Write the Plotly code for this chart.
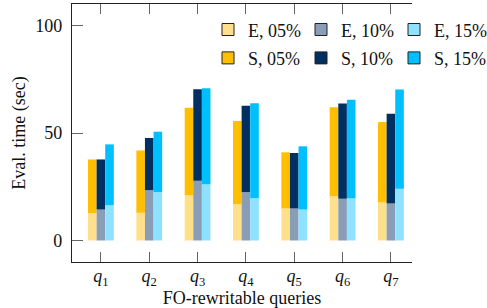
import plotly.graph_objects as go

queries = ["<i>q</i><sub>1</sub>", "<i>q</i><sub>2</sub>", "<i>q</i><sub>3</sub>", "<i>q</i><sub>4</sub>",
           "<i>q</i><sub>5</sub>", "<i>q</i><sub>6</sub>", "<i>q</i><sub>7</sub>"]
pcts = ["05%", "10%", "15%"]

# E (bottom part) and S (stacked on top) evaluation times, seconds
E_05 = [12.7, 12.9, 21.1, 16.9, 14.9, 20.6, 17.7]
E_10 = [14.4, 23.4, 27.8, 22.4, 14.9, 19.4, 17.2]
E_15 = [16.4, 22.5, 26.2, 19.6, 14.4, 19.7, 24.1]
S_05 = [25.0, 29.0, 40.7, 38.7, 26.1, 41.4, 37.4]
S_10 = [23.3, 24.3, 42.5, 40.3, 25.8, 44.3, 41.8]
S_15 = [28.3, 28.1, 44.6, 44.2, 29.4, 45.8, 46.1]

y_ticks = [0, 50, 100]

E_colors = ["#FFE08A", "#8A9DB6", "#8FE2FF"]
S_colors = ["#FFBF00", "#002F62", "#00BFFF"]
offsets = [-0.267, -0.089, 0.089]
bw = 0.178
FONT = "Liberation Serif"

fig = go.Figure()
E_all = [E_05, E_10, E_15]
S_all = [S_05, S_10, S_15]
for i in range(3):
    fig.add_trace(go.Bar(x=queries, y=E_all[i], offset=offsets[i], width=bw,
                         marker=dict(color=E_colors[i], line=dict(width=0)),
                         showlegend=False))
    fig.add_trace(go.Bar(x=queries, y=S_all[i], base=E_all[i], offset=offsets[i], width=bw,
                         marker=dict(color=S_colors[i], line=dict(width=0)),
                         showlegend=False))
# legend entries
for i in range(3):
    fig.add_trace(go.Bar(x=[None], y=[None], name="E, " + pcts[i], legend="legend",
                         marker=dict(color=E_colors[i], line=dict(color="#222", width=1))))
for i in range(3):
    fig.add_trace(go.Bar(x=[None], y=[None], name="S, " + pcts[i], legend="legend2",
                         marker=dict(color=S_colors[i], line=dict(color="#222", width=1))))

leg_common = dict(orientation="h", xanchor="left", yanchor="middle", bgcolor="rgba(0,0,0,0)",
                  borderwidth=0, font=dict(family=FONT, size=18, color="#111"),
                  entrywidth=48, tracegroupgap=0)
fig.update_layout(
    width=487, height=308,
    margin=dict(l=72, r=0, t=4, b=46),
    barmode="overlay",
    plot_bgcolor="white", paper_bgcolor="white",
    font=dict(family=FONT, size=18, color="#111"),
    legend=dict(x=0.4, y=0.9, **leg_common),
    legend2=dict(x=0.4, y=0.79, **leg_common),
    xaxis=dict(range=[-0.598, 6.436], showline=True, linecolor="#222", linewidth=1.3,
               mirror="ticks", ticks="inside", ticklen=10, tickcolor="#666", tickwidth=1,
               ticklabelstandoff=-3,
               showgrid=False, zeroline=False, tickfont=dict(size=18),
               title=dict(text="FO-rewritable queries", standoff=7, font=dict(size=18))),
    yaxis=dict(range=[-10, 110], tickvals=y_ticks, showline=True, linecolor="#222", linewidth=1.3,
               ticks="inside", ticklen=11, tickcolor="#666", tickwidth=1, ticklabelstandoff=5,
               showgrid=False, zeroline=False, tickfont=dict(size=18),
               title=dict(text="Eval. time (sec)", standoff=4, font=dict(size=18))),
)
fig.write_html("out.html", config={"displayModeBar": False},
               post_script="document.body.style.margin='0';")
